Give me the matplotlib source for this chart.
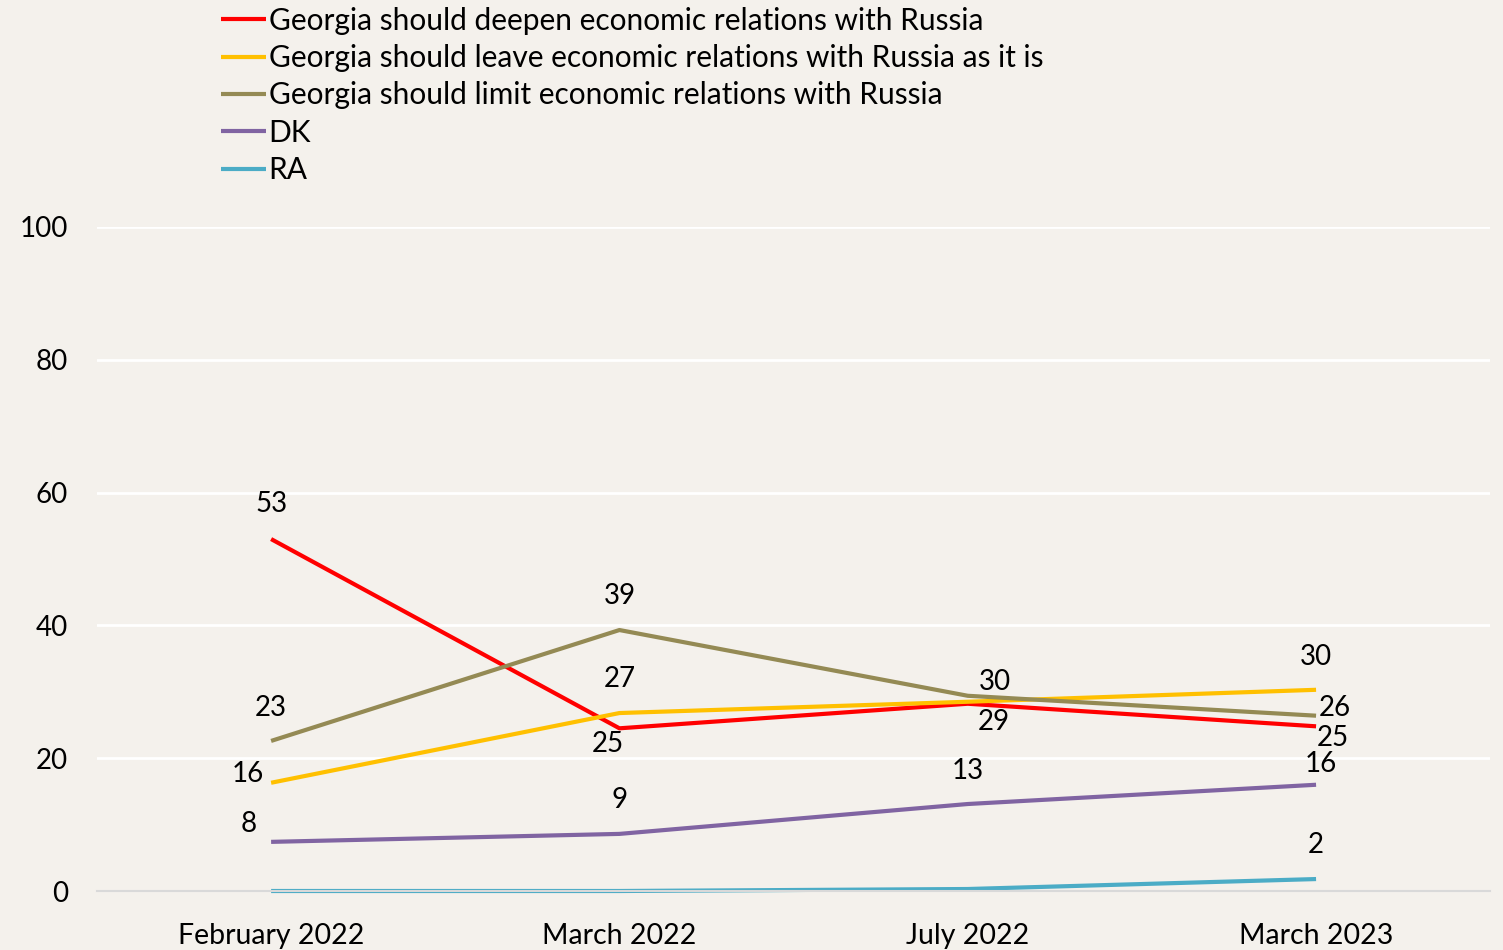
import matplotlib.pyplot as plt

plt.rcParams['font.family'] = ['Lato', 'DejaVu Sans']

# data
periods = ['February 2022', 'March 2022', 'July 2022', 'March 2023']
deepen = [53, 24.5, 28.2, 24.8]
leave = [16.3, 26.8, 28.5, 30.3]
limit = [22.6, 39.3, 29.4, 26.4]
dk = [7.4, 8.6, 13.1, 16.0]
ra = [0, 0, 0.3, 1.8]

# value labels as printed on the chart (None = no label)
deepen_lbl = ['53', '25', None, '25']
leave_lbl = ['16', '27', '29', '30']
limit_lbl = ['23', '39', '30', '26']
dk_lbl = ['8', '9', '13', '16']
ra_lbl = [None, None, None, '2']

names = ['Georgia should deepen economic relations with Russia',
         'Georgia should leave economic relations with Russia as it is',
         'Georgia should limit economic relations with Russia',
         'DK', 'RA']

series = [deepen, leave, limit, dk, ra]
labels = [deepen_lbl, leave_lbl, limit_lbl, dk_lbl, ra_lbl]
colors = ['#FF0000', '#FFC000', '#948A54', '#8064A2', '#4BACC6']

# label offsets in pixels
offsets = [
    [(0, 35), (-12, -16), None, (17, -12)],
    [(-23, 9), (0, 34), (26, -20), (0, 33)],
    [(0, 33), (0, 34), (27, 14), (19, 8)],
    [(-22, 18), (0, 34), (0, 33), (5, 21)],
    [None, None, None, (0, 34)],
]

bg = '#F4F1EC'
fig = plt.figure(figsize=(15.03, 9.5), dpi=100, facecolor=bg)
ax = fig.add_axes([0.0645, 0.0621, 0.927, 0.699], facecolor=bg)

x = list(range(len(periods)))
for vals, lbls, offs, c, n in zip(series, labels, offsets, colors, names):
    ax.plot(x, vals, color=c, lw=3, label=n, solid_capstyle='butt', clip_on=False)
    for xi, v, t, o in zip(x, vals, lbls, offs):
        if t is None:
            continue
        ax.annotate(t, (xi, v), xytext=o, textcoords='offset pixels',
                    ha='center', va='center', fontsize=20, color='black')

ax.set_xlim(-0.5, 3.5)
ax.set_ylim(0, 100)
ax.set_yticks([0, 20, 40, 60, 80, 100])
ax.set_xticks(x)
ax.set_xticklabels(periods)
ax.tick_params(axis='both', length=0, labelsize=20)
ax.tick_params(axis='x', labelsize=20.5, pad=23)
ax.tick_params(axis='y', pad=21)
ax.grid(axis='y', color='white', lw=2)
ax.set_axisbelow(True)
for s in ['left', 'right', 'top']:
    ax.spines[s].set_visible(False)
ax.spines['bottom'].set_color('#D9D9D9')
ax.spines['bottom'].set_linewidth(1.5)

fig.legend(loc='upper left', bbox_to_anchor=(0.129, 1.021), frameon=False,
           fontsize=21.5, handlelength=1.5, handletextpad=0.1, labelspacing=0.31)

fig.savefig('out.png', dpi=100, facecolor=bg)
